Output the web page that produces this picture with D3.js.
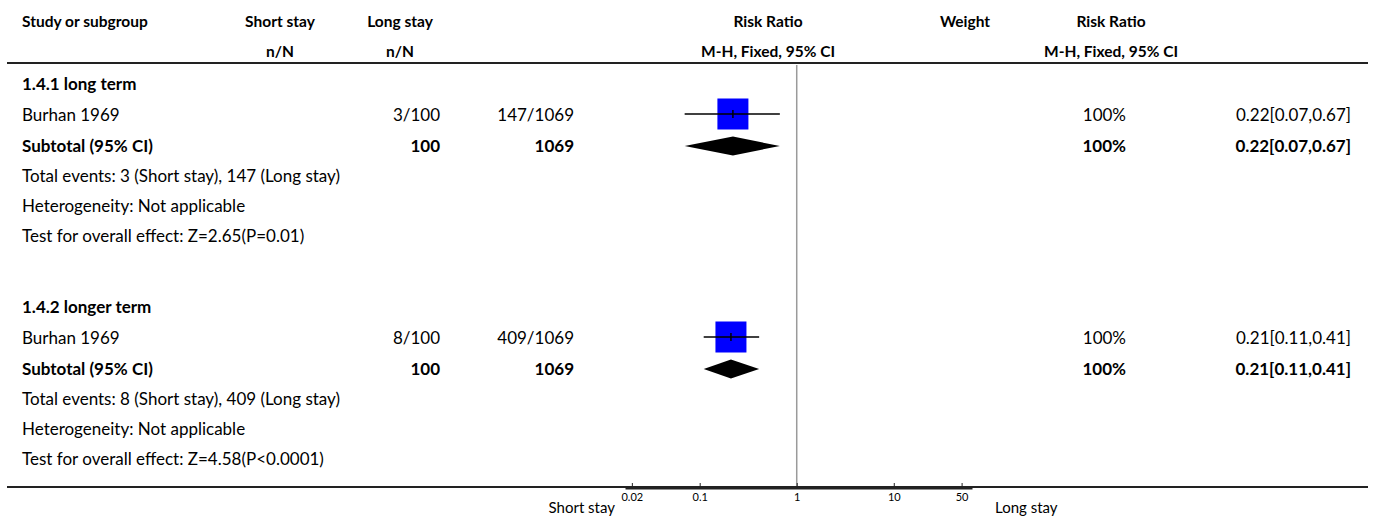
<!DOCTYPE html>
<html>
<head>
<meta charset="utf-8">
<script src="https://cdn.jsdelivr.net/npm/d3@7"></script>
<style>
  body { margin: 0; background: #fff; }
  svg { font-family: Lato, "Open Sans", sans-serif; }
</style>
</head>
<body>
<svg width="1375" height="518"></svg>
<script>
// forest plot data
const groups = ["1.4.1 long term", "1.4.2 longer term"];
const studies = ["Burhan 1969", "Burhan 1969"];
const shortEvents = [3, 8];
const shortTotal = [100, 100];
const longEvents = [147, 409];
const longTotal = [1069, 1069];
const rr = [0.22, 0.21];
const lo = [0.07, 0.11];
const hi = [0.67, 0.41];
const weights = ["100%", "100%"];
const zTests = ["Z=2.65(P=0.01)", "Z=4.58(P<0.0001)"];
const tickVals = [0.02, 0.1, 1, 10, 50];

const sv = d3.select("svg");
const hfs = 15.5, bfs = 17;

const x = d3.scaleLog().domain([0.017, 64]).range([625, 972]);
const fmt = d3.format(".2f");

function txt(s, xx, yy, anchor, bold, size) {
    return sv.append("text")
        .attr("x", xx).attr("y", yy)
        .attr("dy", "0.35em")
        .attr("text-anchor", anchor || "start")
        .attr("font-size", size || bfs)
        .attr("font-weight", bold ? "bold" : "normal")
        .attr("fill", "#000")
        .text(s);
}

// header
txt("Study or subgroup", 22, 22, "start", true, hfs);
txt("Short stay", 280, 22, "middle", true, hfs);
txt("n/N", 280, 52, "middle", true, hfs);
txt("Long stay", 400, 22, "middle", true, hfs);
txt("n/N", 400, 52, "middle", true, hfs);
txt("Risk Ratio", 768, 22, "middle", true, hfs);
txt("M-H, Fixed, 95% CI", 768, 52, "middle", true, hfs);
txt("Weight", 965, 22, "middle", true, hfs);
txt("Risk Ratio", 1111, 22, "middle", true, hfs);
txt("M-H, Fixed, 95% CI", 1111, 52, "middle", true, hfs);

sv.append("line").attr("x1", 7).attr("x2", 1368).attr("y1", 63).attr("y2", 63)
    .attr("stroke", "#222").attr("stroke-width", 2);

// null line
sv.append("line").attr("x1", x(1)).attr("x2", x(1)).attr("y1", 65).attr("y2", 488)
    .attr("stroke", "#9a9a9a").attr("stroke-width", 1.5);

groups.forEach(function (g, i) {
    let y0 = 84 + i * 223;
    let yS = y0 + 31, yT = y0 + 62;
    txt(g, 22, y0, "start", true);

    txt(studies[i], 22, yS);
    txt(shortEvents[i] + "/" + shortTotal[i], 440, yS, "end");
    txt(longEvents[i] + "/" + longTotal[i], 574, yS, "end");
    txt(weights[i], 1126, yS, "end");
    txt(fmt(rr[i]) + "[" + fmt(lo[i]) + "," + fmt(hi[i]) + "]", 1351, yS, "end");

    // study marker
    sv.append("rect")
        .attr("x", x(rr[i]) - 15.5).attr("y", yS - 16.5)
        .attr("width", 31).attr("height", 31)
        .attr("fill", "#0000ff");
    sv.append("line").attr("x1", x(lo[i])).attr("x2", x(hi[i]))
        .attr("y1", yS - 1).attr("y2", yS - 1)
        .attr("stroke", "#000").attr("stroke-width", 1.5);
    sv.append("line").attr("x1", x(rr[i])).attr("x2", x(rr[i]))
        .attr("y1", yS - 5).attr("y2", yS + 3)
        .attr("stroke", "#000").attr("stroke-width", 1.5);

    // subtotal
    txt("Subtotal (95% CI)", 22, yT, "start", true);
    txt(shortTotal[i], 440, yT, "end", true);
    txt(longTotal[i], 574, yT, "end", true);
    txt(weights[i], 1126, yT, "end", true);
    txt(fmt(rr[i]) + "[" + fmt(lo[i]) + "," + fmt(hi[i]) + "]", 1351, yT, "end", true);

    let dm = [[x(lo[i]), yT], [x(rr[i]), yT - 9.5], [x(hi[i]), yT], [x(rr[i]), yT + 9.5]];
    sv.append("path").attr("d", d3.line()(dm) + "Z").attr("fill", "#000");

    txt("Total events: " + shortEvents[i] + " (Short stay), " + longEvents[i] + " (Long stay)", 22, yT + 30);
    txt("Heterogeneity: Not applicable", 22, yT + 60);
    txt("Test for overall effect: " + zTests[i], 22, yT + 90);
});

// bottom rule and axis
sv.append("line").attr("x1", 7).attr("x2", 1368).attr("y1", 487).attr("y2", 487)
    .attr("stroke", "#222").attr("stroke-width", 2);

const ax = sv.append("g").attr("transform", "translate(0,488)")
    .call(d3.axisBottom(x).tickValues(tickVals).tickFormat(d => String(d))
        .tickSizeInner(-5).tickSizeOuter(0).tickPadding(5));
ax.select(".domain").attr("stroke", "#222").attr("stroke-width", 2);
ax.selectAll(".tick line").attr("stroke", "#222");
ax.selectAll(".tick text").attr("font-size", 11).attr("font-family", "Lato, sans-serif").attr("fill", "#000");

txt("Short stay", 615, 508, "end", false, 15);
txt("Long stay", 995, 508, "start", false, 15);
</script>
</body>
</html>
